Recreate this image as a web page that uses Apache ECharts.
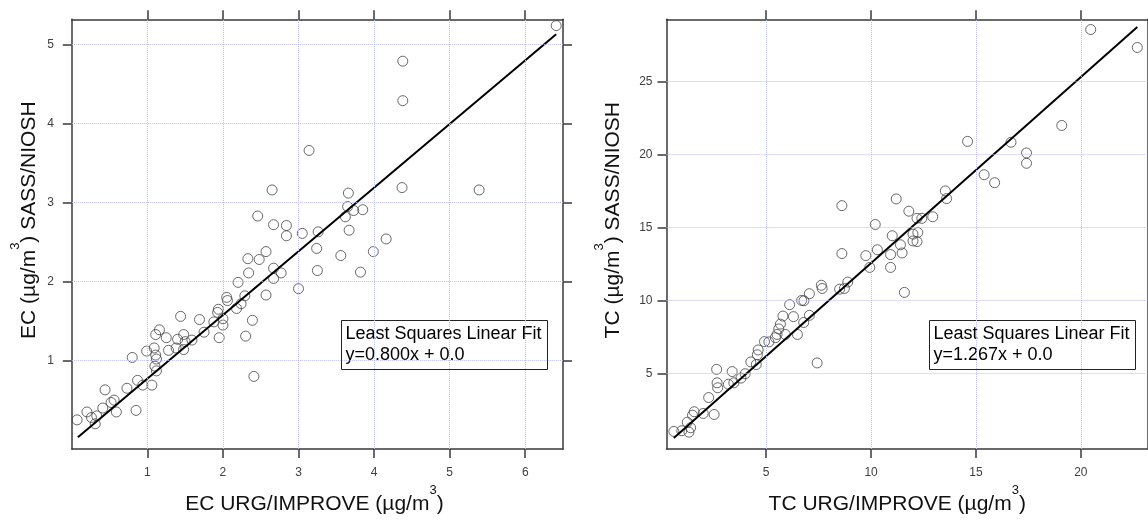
<!DOCTYPE html>
<html>
<head>
<meta charset="utf-8">
<script src="https://cdn.jsdelivr.net/npm/echarts@6/dist/echarts.min.js"></script>
<style>
html, body { margin: 0; padding: 0; background: #fff; }
#main { width: 1148px; height: 520px; }
</style>
</head>
<body>
<div id="main"></div>
<script>
// EC: URG/IMPROVE (x) vs SASS/NIOSH (y)
var ecPoints = [
    [0.07,0.25],[0.20,0.35],[0.26,0.28],[0.31,0.20],[0.33,0.30],[0.41,0.40],[0.44,0.63],[0.52,0.47],
    [0.56,0.50],[0.59,0.35],[0.73,0.65],[0.80,1.04],[0.85,0.37],[0.87,0.75],[0.94,0.69],[0.99,1.12],
    [1.06,0.69],[1.09,1.16],[1.11,1.07],[1.12,1.02],[1.12,0.87],[1.10,0.93],[1.11,1.33],[1.16,1.39],
    [1.25,1.29],[1.28,1.13],[1.38,1.16],[1.40,1.27],[1.44,1.56],[1.48,1.33],[1.48,1.14],[1.50,1.24],
    [1.59,1.26],[1.69,1.52],[1.75,1.36],[1.88,1.49],[1.93,1.61],[1.94,1.65],[1.95,1.29],[2.00,1.53],
    [2.00,1.45],[2.05,1.80],[2.06,1.76],[2.18,1.66],[2.20,1.99],[2.24,1.72],[2.29,1.82],[2.30,1.31],
    [2.33,2.29],[2.34,2.11],[2.39,1.51],[2.41,0.80],[2.46,2.83],[2.48,2.28],[2.57,2.38],[2.57,1.83],
    [2.65,3.16],[2.67,2.72],[2.67,2.17],[2.67,2.04],[2.77,2.11],[2.84,2.71],[2.84,2.58],[3.00,1.91],
    [3.05,2.61],[3.14,3.66],[3.24,2.42],[3.25,2.14],[3.26,2.63],[3.56,2.33],[3.62,2.82],[3.65,2.95],
    [3.66,3.12],[3.67,2.65],[3.73,2.90],[3.82,2.12],[3.85,2.91],[3.99,2.38],[4.16,2.54],[4.37,3.19],
    [4.38,4.29],[4.38,4.79],[5.39,3.16],[6.41,5.24]
];
// TC: URG/IMPROVE (x) vs SASS/NIOSH (y)
var tcPoints = [
    [0.60,1.05],[0.98,1.10],[1.24,1.68],[1.32,1.00],[1.40,1.30],[1.49,2.16],[1.57,2.40],[2.00,2.28],
    [2.26,3.37],[2.52,2.21],[2.64,5.30],[3.38,5.15],[2.66,4.38],[2.69,4.04],[3.20,4.28],[3.46,4.38],
    [3.80,4.70],[4.00,5.00],[4.27,5.81],[4.53,5.63],[4.58,6.30],[4.62,6.63],[4.92,7.20],[5.13,7.18],
    [5.44,7.47],[5.52,7.69],[5.60,8.07],[5.68,8.40],[5.80,8.95],[5.91,7.69],[6.12,9.73],[6.30,8.91],
    [6.49,7.69],[6.69,10.02],[6.80,10.00],[6.79,8.51],[7.06,10.48],[7.06,9.00],[7.43,5.74],[7.63,11.06],
    [7.67,10.84],[8.50,10.79],[8.61,13.23],[8.61,16.51],[8.73,10.84],[8.89,11.28],[9.75,13.09],[9.94,12.28],
    [10.20,15.22],[10.30,13.49],[10.93,13.16],[10.93,12.28],[11.01,14.45],[11.20,16.97],[11.40,13.83],[11.48,13.27],
    [11.59,10.57],[11.80,16.13],[12.00,14.56],[12.00,14.09],[12.19,15.64],[12.19,14.05],[12.23,14.67],[12.42,15.64],
    [12.94,15.75],[13.54,17.52],[13.60,16.99],[14.60,20.91],[15.39,18.63],[15.89,18.08],[16.67,20.85],[17.41,20.12],
    [17.41,19.41],[19.09,22.00],[20.47,28.57],[22.69,27.34]
];
// fit line end points (y = 0.800x and y = 1.267x)
var ecFitEnds = [[0.08,0.03],[6.41,5.13]];
var tcFitEnds = [[0.60,0.60],[22.69,28.75]];

var ecXTicks = [1,2,3,4,5,6];
var ecYTicks = [1,2,3,4,5];
var tcXTicks = [5,10,15,20];
var tcYTicks = [5,10,15,20,25];

var ecFitText = ['Least Squares Linear Fit', 'y=0.800x + 0.0'];
var tcFitText = ['Least Squares Linear Fit', 'y=1.267x + 0.0'];

var FONT = 'Liberation Sans, Arial, sans-serif';
var frameColor = '#3a3a3a';
var gridColor = '#bcbcf0';

var nameRich = {
    t: { fontSize: 21, fontFamily: FONT, color: '#111' },
    sup: { fontSize: 13, fontFamily: FONT, color: '#111', padding: [0, 0, 28, 0] }
};

function mainAxis(gridIndex, pos, min, max, ticks, name, gap, labelMargin, namePad) {
    return {
        type: 'value', gridIndex: gridIndex, position: pos,
        min: min, max: max,
        name: name, nameLocation: 'middle', nameGap: gap,
        nameTextStyle: { rich: nameRich, padding: namePad },
        axisLine: { show: true, onZero: false, lineStyle: { color: frameColor, width: 1.5 } },
        axisTick: { show: true, inside: false, length: 9, customValues: ticks,
            lineStyle: { color: frameColor, width: 1.5 } },
        axisLabel: { show: true, customValues: ticks, margin: labelMargin,
            color: '#404040', fontSize: 12, fontFamily: FONT },
        splitLine: { show: false }
    };
}

function mirrorAxis(gridIndex, pos, min, max, ticks) {
    return {
        type: 'value', gridIndex: gridIndex, position: pos,
        min: min, max: max,
        axisLine: { show: true, onZero: false, lineStyle: { color: frameColor, width: 1.5 } },
        axisTick: { show: true, inside: false, length: 9, customValues: ticks,
            lineStyle: { color: frameColor, width: 1.5 } },
        axisLabel: { show: false },
        splitLine: { show: false }
    };
}

function fitBox(x, y, lines) {
    return {
        type: 'group', left: x, top: y,
        children: [
            { type: 'rect', shape: { x: 0, y: 0, width: 206, height: 49 },
              style: { fill: '#fff', stroke: '#222', lineWidth: 1 } },
            { type: 'text', x: 4, y: 3,
              style: { text: lines.join('\n'), font: '18px ' + FONT, fill: '#000', lineHeight: 21 } }
        ]
    };
}

// dotted grid lines at the tick values, on an empty series kept below the marks
function gridSeries(xi, yi, xTicks, yTicks) {
    return {
        type: 'scatter', xAxisIndex: xi, yAxisIndex: yi, data: [], z: 1,
        markLine: {
            silent: true, symbol: ['none', 'none'], animation: false,
            label: { show: false },
            emphasis: { disabled: true },
            lineStyle: { color: gridColor, type: 'dotted', width: 1 },
            data: xTicks.map(function (v) { return { xAxis: v }; })
                .concat(yTicks.map(function (v) { return { yAxis: v }; }))
        }
    };
}

function scatter(xi, yi, data) {
    return {
        type: 'scatter', xAxisIndex: xi, yAxisIndex: yi, data: data,
        symbol: 'circle', symbolSize: 10,
        itemStyle: { color: 'rgba(0,0,0,0)', borderColor: '#444', borderWidth: 1 },
        z: 3
    };
}

function fitLine(xi, yi, data) {
    return {
        type: 'line', xAxisIndex: xi, yAxisIndex: yi, data: data,
        symbol: 'none', lineStyle: { color: '#000', width: 2 }, z: 4
    };
}

var myChart = echarts.init(document.getElementById('main'));
var option = {
    backgroundColor: '#fff',
    animation: false,
    grid: [
        { left: 71.8, top: 19.3, width: 491.2, height: 444.4 },
        { left: 666.5, top: 19.3, width: 488, height: 443 }
    ],
    xAxis: [
        mainAxis(0, 'bottom', 0, 6.5, ecXTicks, '{t|EC URG/IMPROVE (µg/m}{sup|3}{t|)}', 21, 18, [0, 6, 0, 0]),
        mirrorAxis(0, 'top', 0, 6.5, ecXTicks),
        mainAxis(1, 'bottom', 0.25, 23.2, tcXTicks, '{t|TC URG/IMPROVE (µg/m}{sup|3}{t|)}', 21, 18, [0, 20, 0, 0]),
        mirrorAxis(1, 'top', 0.25, 23.2, tcXTicks)
    ],
    yAxis: [
        mainAxis(0, 'left', -0.12, 5.32, ecYTicks, '{t|EC (µg/m}{sup|3}{t|) SASS/NIOSH}', 22, 18, [0, 0, 0, 28]),
        mirrorAxis(0, 'right', -0.12, 5.32, ecYTicks),
        mainAxis(1, 'left', -0.16, 29.27, tcYTicks, '{t|TC (µg/m}{sup|3}{t|) SASS/NIOSH}', 33, 14, [0, 0, 0, 28]),
        mirrorAxis(1, 'right', -0.16, 29.27, tcYTicks)
    ],
    graphic: [
        fitBox(341, 320, ecFitText),
        fitBox(929, 320, tcFitText)
    ],
    series: [
        gridSeries(0, 0, ecXTicks, ecYTicks),
        scatter(0, 0, ecPoints),
        fitLine(0, 0, ecFitEnds),
        gridSeries(2, 2, tcXTicks, tcYTicks),
        scatter(2, 2, tcPoints),
        fitLine(2, 2, tcFitEnds)
    ]
};
myChart.setOption(option);
</script>
</body>
</html>
